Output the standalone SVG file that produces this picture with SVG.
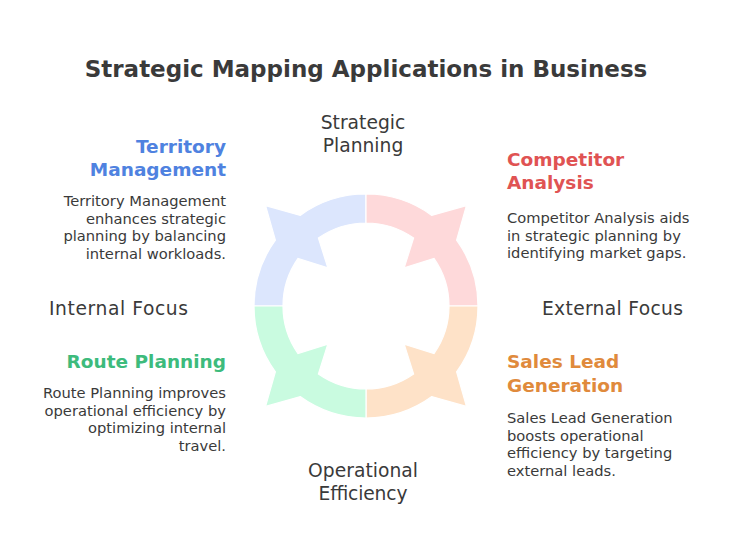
<svg xmlns="http://www.w3.org/2000/svg" width="732" height="552" viewBox="0 0 732 552">
  <style>
    .title { font-family: "DejaVu Sans", "Liberation Sans", sans-serif; font-weight: bold; font-size: 23px; fill: #3a3a3a; }
    .axis { font-family: "DejaVu Sans", "Liberation Sans", sans-serif; font-size: 18.7px; fill: #3a3a3a; }
    .head { font-family: "DejaVu Sans", "Liberation Sans", sans-serif; font-weight: bold; font-size: 18.5px; }
    .desc { font-family: "DejaVu Sans", "Liberation Sans", sans-serif; font-size: 14.7px; fill: #3a3a3a; }
    .seg { stroke: #ffffff; stroke-width: 1.2; stroke-linejoin: miter; }
  </style>
  <defs>
    <path id="quad" d="M366,194 A112,112 0 0 0 300.17,215.39 L265.59,205.59 L275.39,240.17 A112,112 0 0 0 254,306 L283,306 A83,83 0 0 1 298.01,258.39 L327.82,267.82 L318.39,238.01 A83,83 0 0 1 366,223 Z"/>
  </defs>
  <rect width="732" height="552" fill="#ffffff"/>
  <text class="title" x="366" y="77" text-anchor="middle">Strategic Mapping Applications in Business</text>

  <g id="ring">
    <use href="#quad" class="seg" fill="#dce6fd"/>
    <use href="#quad" class="seg" fill="#fed9da" transform="rotate(90 366 306)"/>
    <use href="#quad" class="seg" fill="#fee2c8" transform="rotate(180 366 306)"/>
    <use href="#quad" class="seg" fill="#c9fbe0" transform="rotate(270 366 306)"/>
  </g>

  <g id="axis-labels">
    <text class="axis" x="363" y="129" text-anchor="middle">Strategic</text>
    <text class="axis" x="363" y="152" text-anchor="middle">Planning</text>
    <text class="axis" x="363" y="477" text-anchor="middle" textLength="110">Operational</text>
    <text class="axis" x="363" y="500" text-anchor="middle" textLength="89">Efficiency</text>
    <text class="axis" x="49" y="315" textLength="139">Internal Focus</text>
    <text class="axis" x="542" y="315" textLength="141">External Focus</text>
  </g>

  <g id="territory-management">
    <text class="head" fill="#4f82e0" x="226" y="153" text-anchor="end">Territory</text>
    <text class="head" fill="#4f82e0" x="226" y="176" text-anchor="end">Management</text>
    <text class="desc" x="226" y="206" text-anchor="end">Territory Management</text>
    <text class="desc" x="226" y="223.5" text-anchor="end">enhances strategic</text>
    <text class="desc" x="226" y="241" text-anchor="end">planning by balancing</text>
    <text class="desc" x="226" y="258.5" text-anchor="end">internal workloads.</text>
  </g>

  <g id="competitor-analysis">
    <text class="head" fill="#e05353" x="507" y="166">Competitor</text>
    <text class="head" fill="#e05353" x="507" y="189">Analysis</text>
    <text class="desc" x="507" y="223">Competitor Analysis aids</text>
    <text class="desc" x="507" y="240.5">in strategic planning by</text>
    <text class="desc" x="507" y="258">identifying market gaps.</text>
  </g>

  <g id="route-planning">
    <text class="head" fill="#3dbb7c" x="226" y="368" text-anchor="end">Route Planning</text>
    <text class="desc" x="226" y="398" text-anchor="end">Route Planning improves</text>
    <text class="desc" x="226" y="415.5" text-anchor="end">operational efficiency by</text>
    <text class="desc" x="226" y="433" text-anchor="end">optimizing internal</text>
    <text class="desc" x="226" y="450.5" text-anchor="end">travel.</text>
  </g>

  <g id="sales-lead-generation">
    <text class="head" fill="#e08a3c" x="507" y="368">Sales Lead</text>
    <text class="head" fill="#e08a3c" x="507" y="392">Generation</text>
    <text class="desc" x="507" y="423">Sales Lead Generation</text>
    <text class="desc" x="507" y="440.5">boosts operational</text>
    <text class="desc" x="507" y="458">efficiency by targeting</text>
    <text class="desc" x="507" y="475.5">external leads.</text>
  </g>
</svg>
